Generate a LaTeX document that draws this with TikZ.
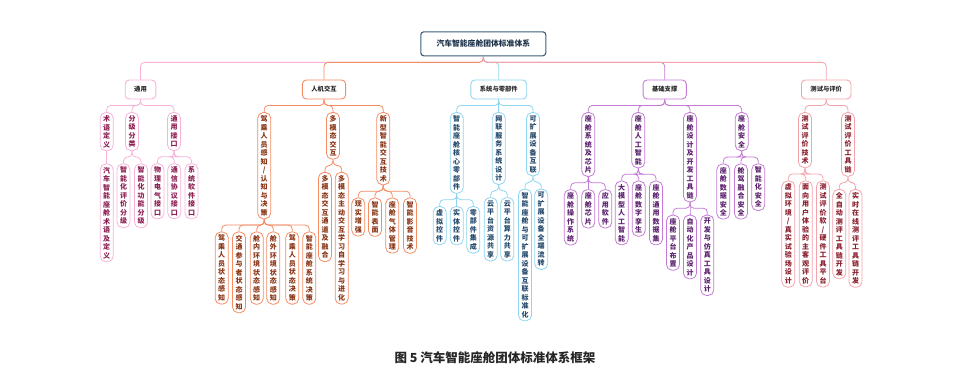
\documentclass[tikz,border=0pt]{standalone}
\usepackage{fontspec}
\newfontfamily\cjk{Noto Sans CJK SC}

\definecolor{rootL}{HTML}{3E5C7A}
\definecolor{rootT}{HTML}{1E324A}
\definecolor{genL}{HTML}{F8B2DA}
\definecolor{genT}{HTML}{8C1E52}
\definecolor{hmiL}{HTML}{F48C64}
\definecolor{hmiT}{HTML}{8A3516}
\definecolor{sysL}{HTML}{8FD5F0}
\definecolor{sysT}{HTML}{24496B}
\definecolor{baseL}{HTML}{C57BD6}
\definecolor{baseT}{HTML}{5B216E}
\definecolor{testL}{HTML}{F4A3AB}
\definecolor{testT}{HTML}{8A1E2C}

% texto vertical: un caracter por linea
\newcommand\slsh{/}
\makeatletter
\def\vt#1{\expandafter\vt@i#1\@nil}
\def\vt@i#1#2\@nil{#1\ifx\relax#2\relax\else\\\vt@i#2\@nil\fi}
\makeatother

\tikzset{
  rootbox/.style={draw=rootL, text=rootT, line width=1.1pt, rounded corners=3pt,
    minimum width=125pt, minimum height=24pt, font=\cjk\bfseries\fontsize{7.8}{9}\selectfont},
  catbox/.style={draw=#1L, text=black!85, line width=0.9pt, rounded corners=4pt,
    minimum height=19pt, inner xsep=9pt, font=\cjk\bfseries\fontsize{6.3}{7}\selectfont},
  itembox/.style={draw=#1L, text=#1T, line width=0.8pt, rounded corners=5.5pt, anchor=north,
    text width=7.5pt, align=center, inner xsep=2.75pt, inner ysep=3pt,
    font=\cjk\bfseries\fontsize{7}{8.5}\selectfont},
  link/.style={draw=#1L, line width=0.8pt, rounded corners=4pt},
  brk/.style={to path={-- ++(0,6) -| (\tikztotarget)}}
}

\begin{document}
\begin{tikzpicture}[x=1pt, y=-1pt]
  \useasboundingbox (0,0) rectangle (956,372);
  % raiz
  \node[rootbox] (root) at (483.3,43.8) {汽车智能座舱团体标准体系};
  % primer nivel
  \foreach \n/\x/\lab in {gen/140.5/通用, hmi/324/人机交互, sys/498.8/系统与零部件,
      base/664.7/基础支撑, test/826.2/测试与评价}{
    \node[catbox=\n] (\n) at (\x,89.5) {\lab};
    \draw[link=\n] (root.south) to[brk] (\n.north);}
  % segundo nivel
  \foreach \n/\p/\x/\lab in {g1/gen/106.7/术语定义, g2/gen/132/分级分类, g3/gen/174/通用接口,
      h1/hmi/264.2/驾乘人员感知\slsh 认知与决策, h2/hmi/333/多模态交互, h3/hmi/383.3/新型智能交互技术,
      s1/sys/456.7/智能座舱核心零部件, s2/sys/498.8/网联服务系统设计, s3/sys/533/可扩展设备互联,
      b1/base/588.3/座舱系统及芯片, b2/base/638.3/座舱人工智能, b3/base/690/座舱设计及开发工具链,
      b4/base/741.7/座舱安全, t1/test/805/测试评价技术, t2/test/848/测试评价工具链}{
    \node[itembox=\p, yshift=-12.7pt] (\n) at (\x,0 |- \p.south) {\vt{\lab}};
    \draw[link=\p] (\p.south) to[brk] (\n.north);}
  % tercer nivel
  \foreach \n/\q/\b/\x/\lab in {g11/g1/gen/106.7/汽车智能座舱术语及定义,
      g21/g2/gen/123.5/智能化评价分级, g22/g2/gen/141/智能化功能分级,
      g31/g3/gen/157.5/物理电气接口, g32/g3/gen/174.3/通信协议接口, g33/g3/gen/191.5/系统软件接口,
      h11/h1/hmi/221.7/驾乘人员状态感知, h12/h1/hmi/239/交通参与者状态感知,
      h13/h1/hmi/256.7/舱内环境状态感知, h14/h1/hmi/273.3/舱外环境状态感知,
      h15/h1/hmi/292.3/驾乘人员状态决策, h16/h1/hmi/309.3/智能座舱系统决策,
      h21/h2/hmi/325/多模态交互通道及融合, h22/h2/hmi/341.7/多模态主动交互学习自学习与进化,
      h31/h3/hmi/358.3/现实增强, h32/h3/hmi/375/智能表面, h33/h3/hmi/392.3/座舱气体管理,
      h34/h3/hmi/410/智能影音技术,
      s11/s1/sys/439.7/虚拟控件, s12/s1/sys/456.7/实体控件, s13/s1/sys/473.3/零部件集成,
      s21/s2/sys/490.7/云平台资源共享, s22/s2/sys/507.3/云平台算力共享,
      s31/s3/sys/525/智能座舱与可扩展设备互联标准化, s32/s3/sys/541.2/可扩展设备全端流转,
      b11/b1/base/570.7/座舱操作系统, b12/b1/base/588.3/座舱芯片, b13/b1/base/605.3/应用软件,
      b21/b2/base/621.7/大模型人工智能, b22/b2/base/638.7/座舱数字孪生, b23/b2/base/656/座舱通用数据集,
      b31/b3/base/673/座舱平台布置, b32/b3/base/690/自动化产品设计, b33/b3/base/707.3/开发与仿真工具设计,
      b41/b4/base/723.3/座舱数据安全, b42/b4/base/741/舱驾融合安全, b43/b4/base/758.3/智能化安全,
      t11/t1/test/788.3/虚拟环境\slsh 真实试验场设计, t12/t1/test/805.7/面向用户体验的主客观评价,
      t13/t1/test/823/测试评价软\slsh 硬件工具平台,
      t21/t2/test/839.3/全自动测评工具链开发, t22/t2/test/855.5/实时在线测评工具链开发}{
    \node[itembox=\b, yshift=-12.5pt] (\n) at (\x,0 |- \q.south) {\vt{\lab}};
    \draw[link=\b] (\q.south) to[brk] (\n.north);}
  % pie de figura
  \node[font=\cjk\bfseries\fontsize{12.5}{14}\selectfont, text=black!85] (cap) at (495,358)
    {图 5 汽车智能座舱团体标准体系框架};
\end{tikzpicture}
\end{document}
